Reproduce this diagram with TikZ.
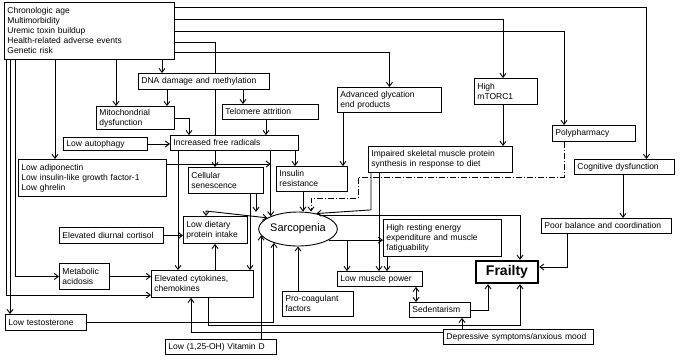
\documentclass[tikz,border=0pt]{standalone}
\usepackage{fontspec}
\setmainfont{Liberation Sans}
\usepackage{tikz}
\usetikzlibrary{arrows.meta, positioning, shapes.geometric}
\tikzset{
    factorBox/.style={
        rectangle,
        draw=black,
        fill=white,
        line width=0.9pt,
        anchor=north west,
        align=left,
        inner xsep=3pt,
        inner ysep=1pt,
        font=\fontsize{8.5}{10}\selectfont
    },
    outcomeBox/.style={
        rectangle,
        draw=black,
        fill=white,
        line width=2.4pt,
        inner sep=0pt,
        minimum width=62pt,
        minimum height=22pt,
        font=\fontsize{14}{16}\selectfont\bfseries
    },
    hubNode/.style={
        ellipse,
        draw=black,
        fill=white,
        line width=0.9pt,
        inner sep=0pt,
        minimum width=74pt,
        minimum height=34pt,
        font=\fontsize{11}{13}\selectfont
    }
}

\begin{document}
\begin{tikzpicture}[x=1pt, y=-1pt, line width=0.9pt, >={Straight Barb[length=4pt, width=6pt]}]
            \useasboundingbox (0,0) rectangle (680,360);

            % Boxes
            \node[factorBox, text width=164pt, minimum height=57pt] (risk) at (4,2) {Chronologic age\\Multimorbidity\\Uremic toxin buildup\\Health-related adverse events\\Genetic risk};
            \node[factorBox, text width=125pt, minimum height=16pt] (dna) at (138,73) {DNA damage and methylation};
            \node[factorBox, text width=72pt, minimum height=23pt] (mito) at (96,106) {Mitochondrial\\dysfunction};
            \node[factorBox, text width=90pt, minimum height=15pt] (telo) at (222,104) {Telomere attrition};
            \node[factorBox, text width=122pt, minimum height=15pt] (radicals) at (170,135) {Increased free radicals};
            \node[factorBox, text width=78pt, minimum height=13pt] (autophagy) at (63,137) {Low autophagy};
            \node[factorBox, text width=142pt, minimum height=37pt] (hormones) at (18,159) {Low adiponectin\\Low insulin-like growth factor-1\\Low ghrelin};
            \node[factorBox, text width=69pt, minimum height=26pt] (senescence) at (188,167) {Cellular\\senescence};
            \node[factorBox, text width=65pt, minimum height=25pt] (insulin) at (276,166) {Insulin\\resistance};
            \node[factorBox, text width=98pt, minimum height=25pt] (glycation) at (337,87) {Advanced glycation\\end products};
            \node[factorBox, text width=57pt, minimum height=26pt] (mtor) at (474,78) {High\\mTORC1};
            \node[factorBox, text width=77pt, minimum height=16pt] (poly) at (552,125) {Polypharmacy};
            \node[factorBox, text width=138pt, minimum height=26pt] (synthesis) at (368,146) {Impaired skeletal muscle protein\\synthesis in response to diet};
            \node[factorBox, text width=94pt, minimum height=15pt] (cognition) at (574,159) {Cognitive dysfunction};
            \node[factorBox, text width=124pt, minimum height=15pt] (balance) at (541,218) {Poor balance and coordination};
            \node[factorBox, text width=112pt, minimum height=37pt] (energy) at (383,219) {High resting energy\\expenditure and muscle\\fatiguability};
            \node[factorBox, text width=79pt, minimum height=15pt] (power) at (337,271) {Low muscle power};
            \node[factorBox, text width=55pt, minimum height=15pt] (sedentary) at (409,302) {Sedentarism};
            \node[factorBox, text width=144pt, minimum height=15pt] (mood) at (443,329) {Depressive symptoms/anxious mood};
            \node[factorBox, text width=58pt, minimum height=27pt] (diet) at (183,216) {Low dietary\\protein intake};
            \node[factorBox, text width=98pt, minimum height=16pt] (cortisol) at (59,227) {Elevated diurnal cortisol};
            \node[factorBox, text width=44pt, minimum height=26pt] (acidosis) at (59,263) {Metabolic\\acidosis};
            \node[factorBox, text width=96pt, minimum height=27pt] (cytokines) at (151,270) {Elevated cytokines,\\chemokines};
            \node[factorBox, text width=75pt, minimum height=16pt] (testo) at (5,314) {Low testosterone};
            \node[factorBox, text width=65pt, minimum height=25pt] (coag) at (282,291) {Pro-coagulant\\factors};
            \node[factorBox, text width=105pt, minimum height=15pt] (vitd) at (165,339) {Low (1,25-OH) Vitamin D};

            % Hub and outcome
            \node[hubNode] (sarc) at (298,229) {Sarcopenia};
            \node[outcomeBox] (frailty) at (507,272) {Frailty};

            % Lines out of the risk box
            \draw[->] (risk.east |- 0,7) -| ([xshift=22pt]cognition.north);
            \draw[->] (risk.east |- 0,19) -| (mtor.north -| 503,0);
            \draw[->] (risk.east |- 0,31) -| (poly.north -| 564,0);
            \draw (risk.east |- 0,42) -| (dna.north -| 215,0);
            \draw (dna.south -| 215,0) -- (radicals.north -| 215,0);
            \draw[->] (radicals.south -| 215,0) -- (senescence.north -| 215,0);
            \draw[->] (risk.east |- 0,52) -| (glycation.north);
            \draw[->] (risk.south -| 55,0) -- (hormones.north -| 55,0);
            \draw[->] (risk.south -| 116,0) -- (mito.north -| 116,0);
            \draw[->] (risk.south -| 162,0) -- (dna.north -| 162,0);
            \draw[->] (risk.south -| 6,0) |- (cytokines.west |- 0,295);
            \draw[->] (risk.south -| 10,0) -- (testo.north -| 10,0);
            \draw[->] (risk.south -| 15,0) |- (acidosis.west);

            % Upper cascade
            \draw[->] (dna.south -| 167,0) -- (mito.north -| 167,0);
            \draw[->] (dna.south -| 243,0) -- (telo.north -| 243,0);
            \draw[->] (mito.east) -| (radicals.north -| 189,0);
            \draw[->] (telo.south -| 266,0) -- (radicals.north -| 266,0);
            \draw[->] (autophagy) -- (radicals.west |- autophagy);
            \draw[->] (radicals.south -| 295,0) -- (insulin.north -| 295,0);
            \draw[->] (radicals.south -| sarc.155) -- (sarc.155);
            \draw[->] (hormones.east |- 0,164) -- (sarc.155 |- 0,164);
            \draw[->] (radicals.south -| 178,0) -- (cytokines.north -| 178,0);
            \draw[->] (glycation.south -| 343,0) -- (insulin.north -| 343,0);
            \draw[->] (mtor.south -| 503,0) -- (synthesis.north -| 503,0);
            \draw[->] (cognition.south -| 623,0) -- (balance.north -| 623,0);

            % Into sarcopenia
            \draw[->] (senescence.south -| 256,0) -- ++(0,18);
            \draw[<->] (diet.north -| 206,0) -- ++(0,-5) -- (sarc.160);
            \draw[->] (senescence.south -| 250,0) -- (cytokines.north -| 250,0);
            \draw[->] (insulin.south -| 303,0) -- (sarc.north -| 303,0);
            \draw[->, dash pattern=on 6pt off 2pt on 1pt off 2pt] (poly.south -| 564,0) |- (358,177) |- (311,198) -- (sarc.north -| 311,0);
            \draw[->] (synthesis.south -| 371,0) -- ++(0,37) -- (sarc.40);
            \draw[->] (cortisol) -- (diet.west |- cortisol);
            \draw[->] (acidosis) -- (cytokines.west |- acidosis);
            \draw[->] (cytokines.north -| 215,0) -- (diet.south -| 215,0);
            \draw[->] (testo.east) -| (sarc.210);
            \draw[->] (vitd.north -| sarc.190) -- (sarc.190);
            \draw[->] (coag.north -| sarc.south) -- (sarc.south);

            % Out of sarcopenia
            \draw[->] (sarc.30) -| ([xshift=13pt]frailty.north);
            \draw[->] (sarc.-20) -- (energy.west |- sarc.-20);
            \draw[->] (sarc.-20 -| 347,0) -- (power.north -| 347,0);
            \draw[->] (synthesis.south -| 379,0) -- (power.north -| 379,0);
            \draw[->] (energy.south -| 387,0) -- (power.north -| 387,0);
            \draw[<->] (power.south -| 416,0) -- (sedentary.north -| 416,0);

            % Into frailty
            \draw[->] (sedentary.east) -| ([xshift=-19pt]frailty.south);
            \draw[->] (mood.north -| 462,0) -- (sedentary.south -| 462,0);
            \draw[->] (cytokines.south -| 208,0) -- ++(0,28) -| ([xshift=13pt]frailty.south);
            \draw[->] (mood.west |- 0,332) -| (cytokines.south -| 191,0);
            \draw[->] (balance.south -| 567,0) |- ([yshift=5pt]frailty.east);
        \end{tikzpicture}
\end{document}
